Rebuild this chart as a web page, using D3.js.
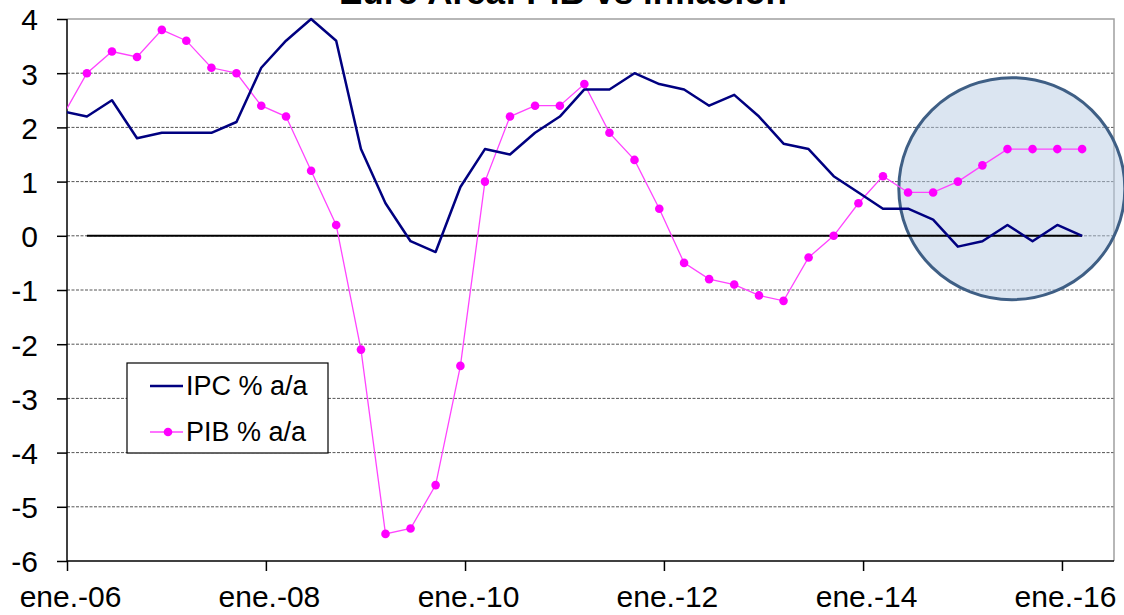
<!DOCTYPE html>
<html lang="es">
<head>
    <meta charset="utf-8">
    <title>Euro Area: PIB vs inflación</title>
    <script src="https://d3js.org/d3.v7.min.js"></script>
    <style>
        body { margin: 0; background: #fff; }
        text { font-family: Arial, "Liberation Sans", sans-serif; fill: #000; }
    </style>
</head>
<body>
<div id="chart"></div>
<script>
// quarterly observations (first one sits just left of the axis and is clipped)
var dates = ["2005-12-15",
    "2006-03-15", "2006-06-15", "2006-09-15", "2006-12-15",
    "2007-03-15", "2007-06-15", "2007-09-15", "2007-12-15",
    "2008-03-15", "2008-06-15", "2008-09-15", "2008-12-15",
    "2009-03-15", "2009-06-15", "2009-09-15", "2009-12-15",
    "2010-03-15", "2010-06-15", "2010-09-15", "2010-12-15",
    "2011-03-15", "2011-06-15", "2011-09-15", "2011-12-15",
    "2012-03-15", "2012-06-15", "2012-09-15", "2012-12-15",
    "2013-03-15", "2013-06-15", "2013-09-15", "2013-12-15",
    "2014-03-15", "2014-06-15", "2014-09-15", "2014-12-15",
    "2015-03-15", "2015-06-15", "2015-09-15", "2015-12-15",
    "2016-03-15"];
var ipc = [2.3,
    2.2, 2.5, 1.8, 1.9, 1.9, 1.9, 2.1, 3.1,
    3.6, 4.0, 3.6, 1.6, 0.6, -0.1, -0.3, 0.9,
    1.6, 1.5, 1.9, 2.2, 2.7, 2.7, 3.0, 2.8,
    2.7, 2.4, 2.6, 2.2, 1.7, 1.6, 1.1, 0.8,
    0.5, 0.5, 0.3, -0.2, -0.1, 0.2, -0.1, 0.2,
    0.0];
var pib = [2.2,
    3.0, 3.4, 3.3, 3.8, 3.6, 3.1, 3.0, 2.4,
    2.2, 1.2, 0.2, -2.1, -5.5, -5.4, -4.6, -2.4,
    1.0, 2.2, 2.4, 2.4, 2.8, 1.9, 1.4, 0.5,
    -0.5, -0.8, -0.9, -1.1, -1.2, -0.4, 0.0, 0.6,
    1.1, 0.8, 0.8, 1.0, 1.3, 1.6, 1.6, 1.6,
    1.6];
var tickDates = ["2006-01-01", "2008-01-01", "2010-01-01", "2012-01-01", "2014-01-01", "2016-01-01"];
var tickLabels = ["ene.-06", "ene.-08", "ene.-10", "ene.-12", "ene.-14", "ene.-16"];
var yTicks = [-6, -5, -4, -3, -2, -1, 0, 1, 2, 3, 4];
var seriesNames = ["IPC % a/a", "PIB % a/a"];

(function () {
    var width = 1124, height = 615,
        x0 = 67, x1 = 1114, y0 = 19, y1 = 561;

    var parse = d3.timeParse("%Y-%m-%d");
    var rows = dates.map(function (d, i) {
        return {date: parse(d), ipc: ipc[i], pib: pib[i]};
    });

    var x = d3.scaleTime()
        .domain([parse("2006-01-01"), parse("2016-07-10")])
        .range([x0, x1]);
    var y = d3.scaleLinear().domain([-6, 4]).range([y1, y0]);

    var svg = d3.select("#chart").append("svg")
        .attr("width", width).attr("height", height);

    svg.append("defs").append("clipPath").attr("id", "plot")
        .append("rect")
        .attr("x", x0).attr("y", y0 - 6)
        .attr("width", x1 - x0 + 6).attr("height", y1 - y0 + 12);

    // title, mostly cut off by the top of the frame
    svg.append("text")
        .attr("x", 563).attr("y", 4)
        .attr("text-anchor", "middle")
        .style("font-size", "35px").style("font-weight", "bold")
        .text("Euro Area: PIB vs inflación");

    // dashed gridlines
    svg.append("g").selectAll("line")
        .data(yTicks.filter(function (v) { return v > -6 && v < 4; }))
        .enter().append("line")
        .attr("x1", x0).attr("x2", x1)
        .attr("y1", function (d) { return y(d); })
        .attr("y2", function (d) { return y(d); })
        .style("stroke", "#555")
        .style("stroke-width", 1)
        .style("stroke-dasharray", "3,1.5");

    // frame top + right
    svg.append("path")
        .attr("d", "M" + x0 + "," + y0 + "H" + x1 + "V" + y1)
        .style("fill", "none").style("stroke", "#a0a0a0").style("stroke-width", 1.5);

    // highlight circle
    svg.append("ellipse")
        .attr("cx", x(parse("2015-07-01")))
        .attr("cy", y(0.87))
        .attr("rx", 113).attr("ry", 111)
        .style("fill", "#b8cce4").style("fill-opacity", 0.5)
        .style("stroke", "#3f5f85").style("stroke-width", 3);

    // axes
    var yAxis = d3.axisLeft(y).tickValues(yTicks).tickSize(10).tickPadding(19)
        .tickFormat(function (d) { return String(d); });
    var gy = svg.append("g").attr("transform", "translate(" + x0 + ",0)").call(yAxis);
    gy.selectAll("text").style("font-size", "30px").attr("dy", "0.36em");

    var xAxis = d3.axisBottom(x).tickValues(tickDates.map(parse)).tickSize(10).tickPadding(15)
        .tickFormat(function (d, i) { return tickLabels[i]; });
    var gx = svg.append("g").attr("transform", "translate(0," + y1 + ")").call(xAxis);
    gx.selectAll("text").style("font-size", "30px").attr("dy", "0.7em")
        .attr("transform", "translate(3,0)");

    [gx, gy].forEach(function (g) {
        g.selectAll("line, .domain").style("stroke", "#000").style("stroke-width", 1.5);
    });
    gx.select(".domain").attr("d", "M" + x0 + ",0H" + x1);
    gy.select(".domain").attr("d", "M0," + y0 + "V" + y1);

    var series = svg.append("g").attr("clip-path", "url(#plot)");

    // zero reference line
    series.append("line")
        .attr("x1", x(rows[1].date)).attr("x2", x(rows[rows.length - 1].date))
        .attr("y1", y(0)).attr("y2", y(0))
        .style("stroke", "#000").style("stroke-width", 2);

    var ipcLine = d3.line().x(function (d) { return x(d.date); }).y(function (d) { return y(d.ipc); });
    var pibLine = d3.line().x(function (d) { return x(d.date); }).y(function (d) { return y(d.pib); });

    series.append("path").datum(rows)
        .attr("d", pibLine)
        .style("fill", "none").style("stroke", "#ff44ff").style("stroke-width", 1.3);

    series.selectAll(".dot").data(rows).enter().append("circle")
        .attr("class", "dot")
        .attr("cx", function (d) { return x(d.date); })
        .attr("cy", function (d) { return y(d.pib); })
        .attr("r", 4.3)
        .style("fill", "#ff00ff");

    series.append("path").datum(rows)
        .attr("d", ipcLine)
        .style("fill", "none").style("stroke", "#000080").style("stroke-width", 2.5)
        .style("stroke-linejoin", "round");

    // legend
    var legend = svg.append("g");
    legend.append("rect")
        .attr("x", 127).attr("y", 363).attr("width", 201).attr("height", 90)
        .style("fill", "#fff").style("stroke", "#000").style("stroke-width", 1.2);
    legend.append("line")
        .attr("x1", 150).attr("x2", 183).attr("y1", 386).attr("y2", 386)
        .style("stroke", "#000080").style("stroke-width", 2.5);
    legend.append("line")
        .attr("x1", 150).attr("x2", 183).attr("y1", 432).attr("y2", 432)
        .style("stroke", "#ff44ff").style("stroke-width", 1.3);
    legend.append("circle")
        .attr("cx", 168).attr("cy", 432).attr("r", 4.3)
        .style("fill", "#ff00ff");
    legend.selectAll(".lbl").data(seriesNames).enter().append("text")
        .attr("class", "lbl")
        .attr("x", 186)
        .attr("y", function (d, i) { return 395 + i * 46; })
        .style("font-size", "27px")
        .text(function (d) { return d; });
}());
</script>
</body>
</html>
